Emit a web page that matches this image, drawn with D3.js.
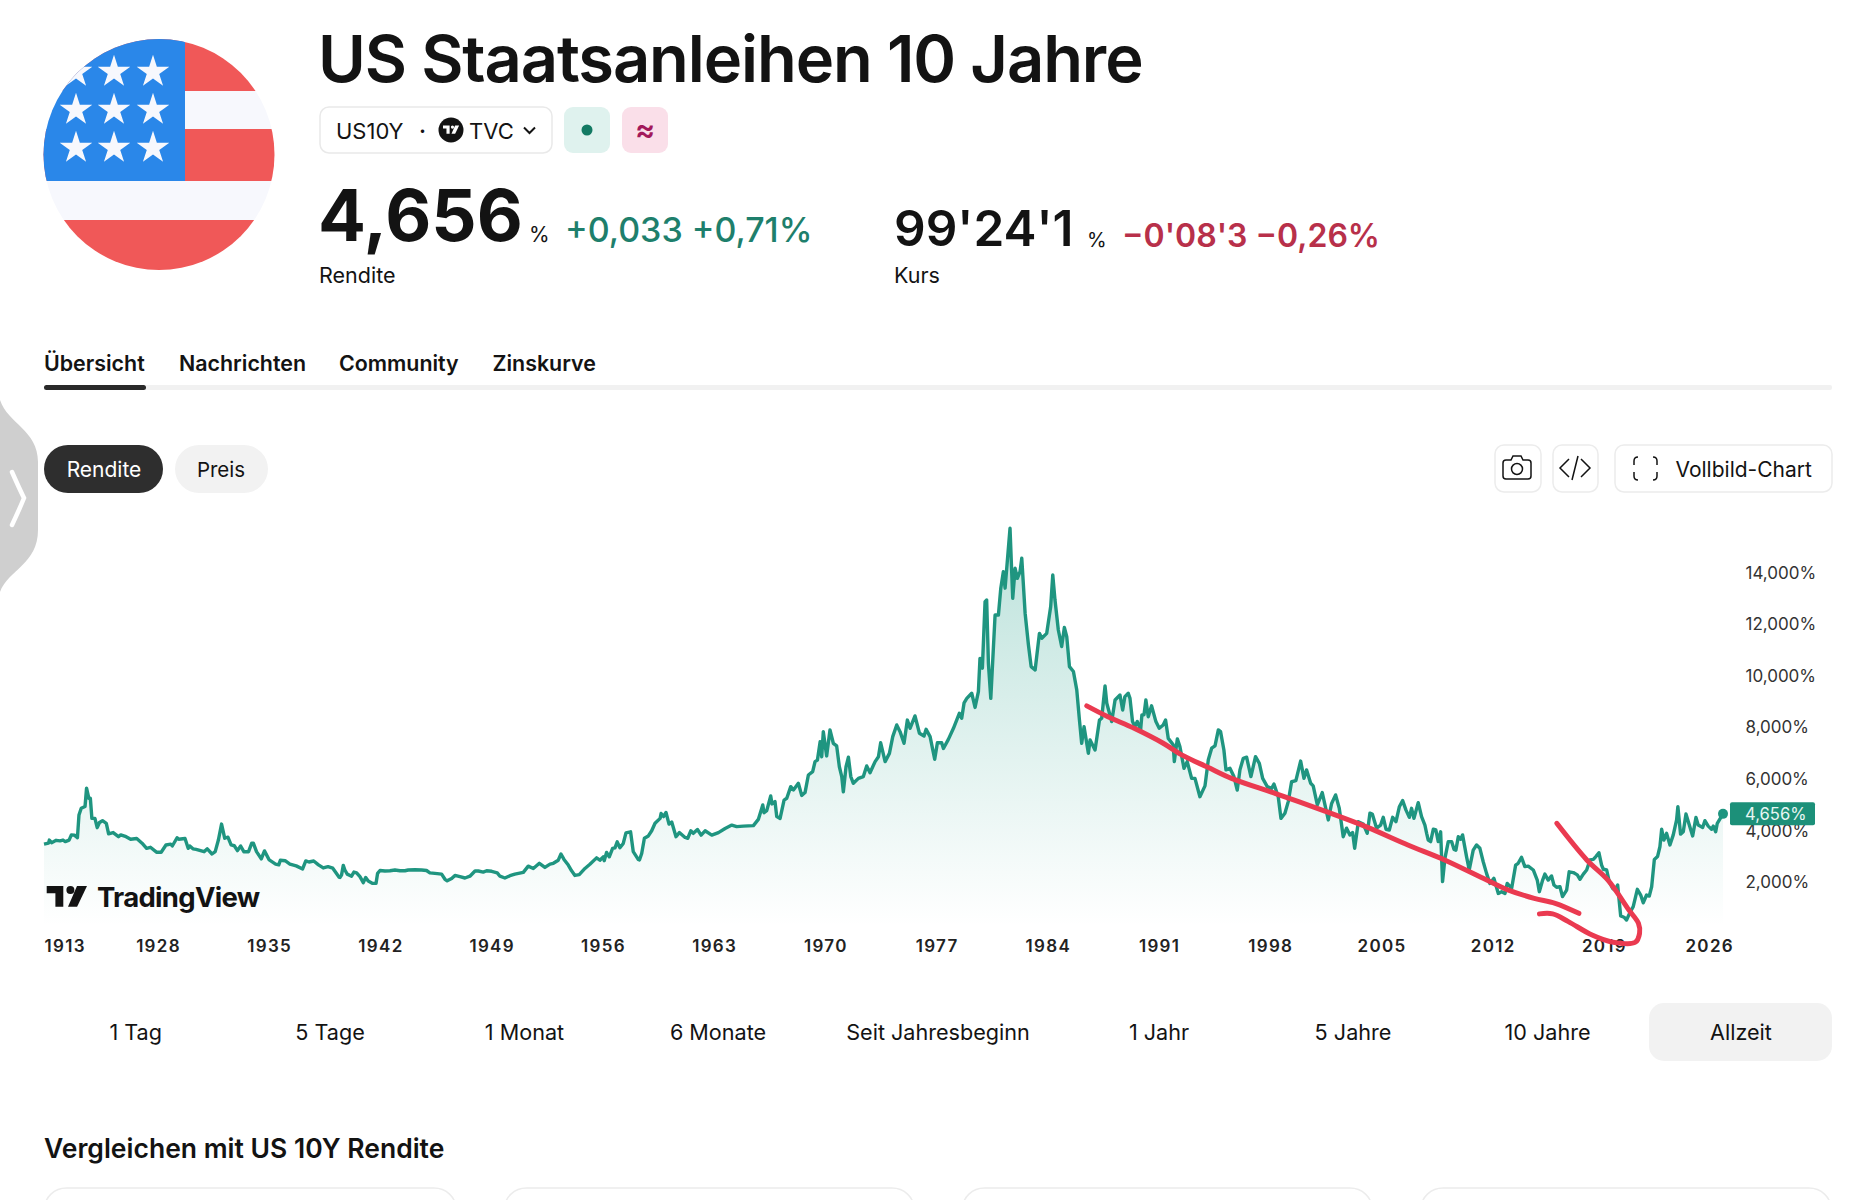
<!DOCTYPE html>
<html>
<head>
<meta charset="utf-8">
<title>US Staatsanleihen 10 Jahre</title>
<script src="https://cdn.jsdelivr.net/npm/d3@7"></script>
<style>
	html, body { margin: 0; padding: 0; background: #fff; }
	svg { display: block; }
	text { font-family: Inter, 'Noto Sans', sans-serif; fill: #131313; }
</style>
</head>
<body>
<svg id="page" width="1875" height="1200"></svg>
<script>
// Data: [year, yield in %]
const yields1913 = [
	[1913.0,3.48],[1913.6,3.52],[1913.7,3.64],[1914.0,3.54],[1914.6,3.63],[1915.1,3.61],[1915.5,3.64],[1915.8,3.58],
	[1916.3,3.64],[1916.6,3.84],[1917.0,3.83],[1917.4,3.73],[1917.6,4.61],[1917.9,4.87],[1918.4,4.94],[1918.6,5.65],
	[1918.9,5.26],[1919.1,5.26],[1919.3,4.48],[1919.7,4.48],[1920.0,4.12],[1920.3,4.32],[1920.7,4.39],[1921.2,4.29],
	[1921.5,3.88],[1922.1,3.93],[1922.8,3.77],[1923.1,3.84],[1923.8,3.77],[1924.4,3.67],[1925.2,3.70],[1925.9,3.52],
	[1926.5,3.32],[1927.0,3.36],[1927.8,3.17],[1928.2,3.17],[1928.5,3.45],[1928.8,3.48],[1928.9,3.41],[1929.2,3.73],
	[1929.3,3.67],[1929.7,3.70],[1929.9,3.32],[1930.0,3.41],[1930.2,3.30],[1930.4,3.28],[1930.9,3.19],[1931.1,3.30],
	[1931.4,3.10],[1931.6,3.19],[1931.8,3.64],[1932.0,4.26],[1932.2,3.71],[1932.4,3.75],[1932.6,3.45],[1932.8,3.42],
	[1933.0,3.23],[1933.2,3.41],[1933.4,3.19],[1933.7,3.19],[1933.9,3.52],[1934.0,3.52],[1934.2,3.19],[1934.5,2.91],
	[1934.7,3.22],[1935.0,2.87],[1935.4,2.71],[1935.6,2.68],[1935.7,2.86],[1936.0,2.84],[1936.3,2.71],[1936.7,2.64],
	[1937.1,2.52],[1937.3,2.83],[1937.5,2.79],[1937.8,2.83],[1938.1,2.68],[1938.4,2.56],[1938.7,2.61],[1939.0,2.55],
	[1939.4,2.20]
];
const yields1939 = [
	[1939.45,2.19],[1939.55,2.28],[1939.66,2.66],[1939.76,2.48],[1939.91,2.32],[1940.18,2.24],[1940.33,2.40],[1940.5,2.37],
	[1940.71,2.22],[1940.92,1.99],[1941.07,2.19],[1941.23,2.05],[1941.51,1.96],[1941.72,1.96],[1941.82,2.35],[1941.97,2.46],
	[1942.28,2.44],[1942.6,2.45],[1942.91,2.48],[1943.23,2.45],[1943.54,2.45],[1943.75,2.48],[1944.17,2.49],[1944.59,2.48],
	[1944.9,2.46],[1945.11,2.37],[1945.43,2.35],[1945.85,2.32],[1946.06,2.12],[1946.2,2.06],[1946.48,2.15],[1946.69,2.27],
	[1947.0,2.22],[1947.32,2.17],[1947.63,2.24],[1947.95,2.44],[1948.16,2.44],[1948.47,2.40],[1948.68,2.45],[1949.0,2.43],
	[1949.35,2.37],[1949.52,2.24],[1949.83,2.17],[1950.15,2.26],[1950.46,2.32],[1950.99,2.39],[1951.3,2.63],[1951.62,2.54],
	[1952.0,2.74],[1952.35,2.58],[1952.67,2.71],[1952.88,2.74],[1953.19,2.86],[1953.36,3.10],[1953.55,2.89],[1953.82,2.67],
	[1954.03,2.45],[1954.24,2.27],[1954.51,2.30],[1954.87,2.54],[1955.18,2.70],[1955.6,2.95],[1955.81,2.86],[1956.02,2.99],
	[1956.08,2.84],[1956.23,3.16],[1956.4,2.99],[1956.61,3.32],[1956.76,3.34],[1956.9,3.57],[1957.07,3.34],[1957.28,3.51],
	[1957.45,3.92],[1957.74,3.96],[1957.91,3.19],[1958.22,2.89]
];
const yields1958 = [
	[1958.3,2.87],[1958.44,3.12],[1958.61,3.71],[1958.86,3.80],[1959.07,4.00],[1959.28,4.29],[1959.6,4.48],[1959.66,4.67],
	[1959.81,4.55],[1959.97,4.71],[1960.16,4.26],[1960.33,4.34],[1960.6,3.77],[1960.81,3.93],[1961.17,3.74],[1961.34,3.71],
	[1961.53,4.00],[1961.69,3.90],[1961.95,4.05],[1962.18,3.83],[1962.43,4.00],[1962.85,3.83],[1963.27,3.93],[1963.69,4.09],
	[1964.11,4.22],[1964.42,4.16],[1964.84,4.18],[1965.47,4.20],[1965.78,4.44],[1966.06,5.00],[1966.14,4.70],[1966.31,4.78],
	[1966.56,5.35],[1966.64,5.04],[1966.83,5.13],[1966.94,4.55],[1967.15,4.48],[1967.4,5.19],[1967.57,5.26],[1967.82,5.71],
	[1967.99,5.58],[1968.3,5.84],[1968.51,5.37],[1968.72,5.48],[1968.93,6.16],[1969.2,6.29],[1969.35,6.68],[1969.5,6.74],
	[1969.67,7.45],[1969.77,6.87],[1969.87,7.84],[1970.08,6.90],[1970.29,7.91],[1970.5,7.39],[1970.71,7.29],[1970.88,6.48],
	[1971.03,6.10],[1971.13,5.51],[1971.3,6.48],[1971.45,6.85],[1971.6,6.10],[1971.76,5.84],[1972.08,6.03],[1972.39,6.10],
	[1972.6,6.51],[1972.81,6.25],[1973.13,6.68],[1973.34,6.87],[1973.48,7.41],[1973.76,6.68],[1974.03,7.00],[1974.24,7.65],
	[1974.49,8.10],[1974.7,7.84],[1974.95,7.39],[1975.16,8.29],[1975.33,7.97],[1975.64,8.45],[1975.92,7.78],[1976.21,7.67],
	[1976.34,7.93],[1976.59,7.65],[1976.88,6.77],[1977.05,7.41],[1977.32,7.41],[1977.43,7.19],[1977.74,7.54],[1978.06,7.97],
	[1978.43,8.55],[1978.58,8.36],[1978.73,8.96],[1978.9,9.13],[1979.21,9.33],[1979.42,8.78]
];
const yields1979 = [
	[1979.63,9.39],[1979.73,10.68],[1979.88,10.30],[1980.05,12.88],[1980.15,12.94],[1980.26,10.49],[1980.41,9.13],[1980.68,12.36],
	[1980.89,12.36],[1981.04,13.40],[1981.2,14.04],[1981.31,13.40],[1981.62,15.72],[1981.79,13.01],[1981.94,14.17],[1982.08,13.78],
	[1982.25,14.04],[1982.36,14.56],[1982.57,12.43],[1982.78,11.20],[1982.95,10.36],[1983.2,10.23],[1983.47,11.65],[1983.62,11.46],
	[1983.93,11.65],[1984.18,12.69],[1984.31,13.91],[1984.45,12.94],[1984.66,11.78],[1984.87,11.14],[1985.04,11.88],[1985.19,11.52],
	[1985.36,10.36],[1985.61,10.17],[1985.82,9.46],[1985.99,8.29],[1986.13,7.39],[1986.28,8.03],[1986.55,7.00],[1986.66,7.52],
	[1986.97,7.13],[1987.25,8.29],[1987.39,8.36],[1987.6,9.61],[1987.71,8.94],[1988.02,8.23],[1988.23,9.07],[1988.54,9.26]
];
const yields1988 = [
	[1988.71,8.68],[1988.85,9.20],[1989.06,9.33],[1989.17,9.13],[1989.33,8.23],[1989.48,8.04],[1989.63,8.23],[1989.84,7.91],
	[1989.92,8.49],[1990.05,8.49],[1990.17,9.07],[1990.32,8.42],[1990.53,8.84],[1990.8,8.23],[1991.01,7.97],[1991.26,8.10],
	[1991.41,8.29],[1991.58,7.58],[1991.89,7.33],[1991.96,6.68],[1992.15,7.56],[1992.31,7.26],[1992.57,6.42],[1992.77,6.68],
	[1993.05,6.03],[1993.26,6.03],[1993.57,5.32],[1993.89,5.74],[1994.1,6.75],[1994.31,7.20],[1994.52,7.29],[1994.73,7.91],
	[1994.87,7.84],[1995.08,7.13],[1995.21,6.36],[1995.46,6.42],[1995.71,6.10],[1995.92,5.58],[1996.09,6.36],[1996.3,6.81],
	[1996.51,6.85],[1996.78,6.10],[1997.07,6.87],[1997.31,6.61],[1997.52,6.03],[1997.81,5.71],[1998.08,5.64],[1998.23,5.81],
	[1998.5,5.32],[1998.67,4.48],[1998.92,4.68],[1999.13,5.13],[1999.34,5.90],[1999.61,5.94],[1999.91,6.70],[2000.12,6.03],
	[2000.28,6.36],[2000.54,5.84],[2000.7,5.74],[2000.96,5.00],[2001.27,5.48],[2001.65,4.42],[2001.86,5.06],[2002.11,5.39],
	[2002.34,4.87],[2002.59,3.77],[2002.8,4.10],[2003.01,3.84],[2003.18,3.93],[2003.31,3.32],[2003.54,4.35],[2003.85,4.26],
	[2004.1,3.90],[2004.27,4.68],[2004.42,4.65],[2004.69,4.10]
];
const yields2004 = [
	[2004.94,4.22],[2005.11,4.52],[2005.28,4.06],[2005.49,4.03],[2005.7,4.52],[2005.91,4.35],[2006.12,4.93],[2006.33,5.17],
	[2006.54,4.80],[2006.75,4.52],[2006.89,4.87],[2007.04,4.48],[2007.31,5.09],[2007.52,4.55],[2007.73,4.22],[2007.84,3.90],
	[2007.94,3.64],[2008.09,3.58],[2008.26,4.06],[2008.42,4.03],[2008.57,3.58],[2008.72,3.96],[2008.84,2.03],[2008.99,2.93],
	[2009.2,3.58],[2009.41,3.58],[2009.56,3.28],[2009.68,3.25],[2009.83,3.77],[2009.98,3.67],[2010.1,3.84],[2010.35,3.00],
	[2010.52,2.48],[2010.77,3.25],[2010.98,3.45],[2011.19,3.32],[2011.4,2.80],[2011.61,2.35],[2011.82,1.96],[2012.07,2.16],
	[2012.35,1.57],[2012.56,1.64],[2012.77,1.57],[2012.91,1.96],[2013.19,1.77],[2013.44,2.67],[2013.6,2.74],[2013.81,2.97],
	[2014.02,2.61],[2014.23,2.63],[2014.55,2.48],[2014.8,2.09],[2014.93,1.64],[2015.14,2.09],[2015.28,2.32],[2015.49,2.09],
	[2015.7,2.25],[2015.85,1.90],[2016.02,1.81],[2016.23,1.83],[2016.39,1.45],[2016.65,1.70],[2016.81,2.41]
];
const yields2017 = [
	[2017.07,2.38],[2017.32,2.29],[2017.49,2.12],[2017.7,2.32],[2017.91,2.48],[2018.12,2.87],[2018.33,2.89],[2018.49,3.00],
	[2018.68,3.15],[2018.85,2.67],[2018.96,2.51],[2019.17,2.48],[2019.33,2.03],[2019.54,1.77],[2019.69,1.70],[2019.86,1.90],
	[2020.05,0.70],[2020.26,0.65],[2020.42,0.54],[2020.63,0.83],[2020.84,1.06],[2021.1,1.73],[2021.31,1.51],[2021.47,1.21],
	[2021.68,1.51],[2021.85,1.47],[2022.0,1.83],[2022.17,2.89],[2022.37,3.00],[2022.52,3.38],[2022.63,4.06],[2022.77,3.64],
	[2022.94,3.90],[2023.15,3.45],[2023.36,3.84],[2023.57,4.42],[2023.65,4.93],[2023.82,3.87],[2023.99,3.96],[2024.16,4.65],
	[2024.37,4.22],[2024.58,3.80],[2024.79,4.52],[2024.93,4.22],[2025.21,4.13],[2025.35,4.39],[2025.56,4.18],[2025.77,4.06],
	[2025.88,4.18],[2026.03,3.96],[2026.13,4.29],[2026.49,4.656]
];

// Hand drawn red strokes on top of the chart, same units as the series
const trendStroke = [
	[1986.45,8.84],[1987.78,8.42],[1989.43,7.97],[1991.26,7.39],[1992.42,6.94],[1994.07,6.46],[1995.56,6.03],[1998.38,5.43],
	[2001.52,4.74],[2004.01,4.16],[2006.66,3.45],[2008.97,2.87],[2011.62,2.09],[2012.95,1.71],[2014.61,1.38],[2015.93,1.19],[2017.42,0.80]
];
const hookStroke = [
	[2016.03,4.29],[2017.92,2.87],[2019.25,2.09],[2020.57,0.93],[2021.17,0.41],[2021.24,0.03],[2020.97,-0.32],
	[2019.58,-0.32],[2018.25,-0.04],[2016.76,0.48],[2015.77,0.78],[2014.94,0.78]
];

const xTicks = [1913, 1928, 1935, 1942, 1949, 1956, 1963, 1970, 1977, 1984, 1991, 1998, 2005, 2012, 2019, 2026];
const yTicks = [2, 4, 6, 8, 10, 12, 14];
const lastYield = 4.656;
const tabs = ['Übersicht', 'Nachrichten', 'Community', 'Zinskurve'];
const ranges = ['1 Tag', '5 Tage', '1 Monat', '6 Monate', 'Seit Jahresbeginn', '1 Jahr', '5 Jahre', '10 Jahre', 'Allzeit'];

const series = [].concat(yields1913, yields1939, yields1958, yields1979, yields1988, yields2004, yields2017);

const svg = d3.select('#page');
const defs = svg.append('defs');

const addText = (x, y, str, size, weight, color, anchor) =>
	svg.append('text')
		.attr('x', x)
		.attr('y', y)
		.attr('font-size', size)
		.attr('font-weight', weight || 400)
		.attr('text-anchor', anchor || 'start')
		.style('fill', color || '#131313')
		.text(str);

const addBox = (x0, y0, x1, y1, r, fill, stroke) =>
	svg.append('rect')
		.attr('x', x0)
		.attr('y', y0)
		.attr('width', x1 - x0)
		.attr('height', y1 - y0)
		.attr('rx', r)
		.attr('fill', fill)
		.attr('stroke', stroke || 'none')
		.attr('stroke-width', stroke ? 1.5 : 0);

// TradingView mark, 40 wide and 21 high at scale 1
const addLogo = (x, y, k, color) => {
	const g = svg.append('g').attr('transform', `translate(${x}, ${y}) scale(${k})`).attr('fill', color);
	g.append('path').attr('d', 'M0,0H16.6V20.7H8.7V7.3H0Z');
	g.append('circle').attr('cx', 23.7).attr('cy', 4).attr('r', 4);
	g.append('path').attr('d', 'M30.3,0H40.3L30.4,20.7H21.3Z');
};

// Side handle

svg.append('path')
	.attr('d', 'M0,400C8,424 38,430 38,462V530C38,564 8,570 0,592Z')
	.attr('fill', '#cfcfcf');
svg.append('path')
	.attr('d', 'M12,472Q20,490 24,498Q20,508 12,525')
	.attr('fill', 'none')
	.attr('stroke', '#fff')
	.attr('stroke-width', 4.5)
	.attr('stroke-linecap', 'round');

// Flag

defs.append('clipPath').attr('id', 'flagClip')
	.append('circle').attr('cx', 159).attr('cy', 154.5).attr('r', 115.5);
const flag = svg.append('g').attr('clip-path', 'url(#flagClip)');
[[39, 91, '#f05858'], [91, 129, '#f7f8fd'], [129, 181, '#f05858'], [181, 220, '#f7f8fd'], [220, 271, '#f05858']].forEach((s) => {
	flag.append('rect').attr('x', 40).attr('y', s[0]).attr('width', 240).attr('height', s[1] - s[0]).attr('fill', s[2]);
});
flag.append('rect').attr('x', 40).attr('y', 39).attr('width', 145).attr('height', 142).attr('fill', '#2a87e9');
[71, 109, 147].forEach((cy) => {
	[76, 114, 153].forEach((cx) => {
		flag.append('path')
			.attr('d', d3.symbol(d3.symbolStar, 330)())
			.attr('transform', `translate(${cx}, ${cy + 1})`)
			.attr('fill', '#f7f8fd');
	});
});

// Header

addText(318, 82, 'US Staatsanleihen 10 Jahre', 65, 600).attr('letter-spacing', -1.1);

addBox(320, 107, 552, 153, 9, '#fff', '#e9e9e9');
addText(336, 138.5, 'US10Y', 22);
addText(419, 138.5, '·', 22, 600);
svg.append('circle').attr('cx', 451).attr('cy', 130).attr('r', 12.5).attr('fill', '#131313');
addLogo(443, 125.5, 0.4, '#fff');
addText(469, 138.5, 'TVC', 22);
svg.append('path')
	.attr('d', 'M524,127.5L529.5,133L535,127.5')
	.attr('fill', 'none')
	.attr('stroke', '#131313')
	.attr('stroke-width', 2);
addBox(564, 107, 610, 153, 9, '#dff2ee');
svg.append('circle').attr('cx', 587).attr('cy', 130).attr('r', 5.5).attr('fill', '#137a63');
addBox(622, 107, 668, 153, 9, '#fadfe9');
addText(645, 140, '≈', 30, 600, '#a3195b', 'middle');

addText(318, 241, '4,656', 71, 700);
addText(529, 242, '%', 21);
addText(565, 241.5, '+0,033 +0,71%', 34, 500, '#1e7f6c');
addText(319, 283, 'Rendite', 21.5);

addText(894, 246, "99'24'1", 49.5, 600);
addText(1087, 247, '%', 20);
addText(1122, 246.5, "−0'08'3 −0,26%", 32, 600, '#b8304a');
addText(894, 283, 'Kurs', 21.5);

// Tabs

const tabX = [44, 179, 339, 492.5];
tabs.forEach((t, i) => addText(tabX[i], 371, t, 21.4, 600));
addBox(44, 385, 1832, 390, 2, '#f1f1f1');
addBox(44, 385, 146, 390, 2.5, '#2a2a2a');

// Toggles and buttons

addBox(44, 445, 163, 493, 24, '#2e2e2e');
addText(104, 477, 'Rendite', 21, 400, '#fff', 'middle');
addBox(175, 445, 268, 493, 24, '#f2f2f2');
addText(221, 477, 'Preis', 20.5, 400, '#131313', 'middle');

addBox(1495, 445, 1541, 492, 9, '#fff', '#ececec');
addBox(1553, 445, 1598, 492, 9, '#fff', '#ececec');
addBox(1615, 445, 1832, 492, 9, '#fff', '#ececec');
const iconStyle = (sel) => sel.attr('fill', 'none').attr('stroke', '#131313').attr('stroke-width', 1.5);
iconStyle(svg.append('path'))
	.attr('d', 'M1506,460H1511L1513,456H1521L1523,460H1528Q1531,460 1531,463V476Q1531,479 1528,479H1506Q1503,479 1503,476V463Q1503,460 1506,460Z');
iconStyle(svg.append('circle')).attr('cx', 1517).attr('cy', 469).attr('r', 5.5);
iconStyle(svg.append('path')).attr('d', 'M1569,459L1560,468L1569,477M1581,459L1590,468L1581,477M1578,456L1572,480');
iconStyle(svg.append('path'))
	.attr('d', 'M1638,457Q1634,457 1634,461V465M1653,457Q1657,457 1657,461V465M1634,472V476Q1634,480 1638,480M1657,472V476Q1657,480 1653,480');
addText(1675.5, 477, 'Vollbild-Chart', 21);

// Scales

const xscale = d3.scaleLinear().domain([1913, 1928, 2026.49]).range([44, 158, 1723]);
const yscale = d3.scaleLinear().domain([0, 14]).range([934, 572.7]);

// Area and line

const gradient = defs.append('linearGradient')
	.attr('id', 'areaFill')
	.attr('gradientUnits', 'userSpaceOnUse')
	.attr('x1', 0)
	.attr('x2', 0)
	.attr('y1', yscale(15.72))
	.attr('y2', yscale(0.3));
gradient.append('stop').attr('offset', 0).attr('stop-color', '#1f9e87').attr('stop-opacity', 0.3);
gradient.append('stop').attr('offset', 1).attr('stop-color', '#1f9e87').attr('stop-opacity', 0);

const area = d3.area()
	.x((d) => xscale(d[0]))
	.y0(yscale(0))
	.y1((d) => yscale(d[1]));
const line = d3.line()
	.x((d) => xscale(d[0]))
	.y((d) => yscale(d[1]));

svg.append('path').datum(series).attr('d', area).attr('fill', 'url(#areaFill)');
svg.append('path')
	.datum(series)
	.attr('d', line)
	.attr('fill', 'none')
	.attr('stroke', '#1f9580')
	.attr('stroke-width', 3.4)
	.attr('stroke-linejoin', 'round');
svg.append('circle')
	.attr('cx', xscale(2026.49))
	.attr('cy', yscale(lastYield))
	.attr('r', 5)
	.attr('fill', '#1f9580');

// Watermark

addLogo(46.7, 886, 1, '#131313');
addText(97, 907, 'TradingView', 27.5, 700).attr('letter-spacing', -0.7);

// Axes

const bottomAxis = d3.axisBottom(xscale)
	.tickValues(xTicks)
	.tickFormat(d3.format('d'))
	.tickSize(0)
	.tickPadding(0);
const xAxis = svg.append('g').attr('transform', 'translate(0, 940)').call(bottomAxis);
xAxis.select('.domain').remove();
xAxis.selectAll('text')
	.attr('font-size', 17)
	.attr('font-weight', 600)
	.attr('letter-spacing', 1.3)
	.attr('font-family', 'Inter')
	.style('fill', '#222');
xAxis.selectAll('.tick').filter((d) => d === 1913).select('text').attr('text-anchor', 'start');
xAxis.selectAll('.tick').filter((d) => d === 2026).select('text').attr('dx', -6);

const rightAxis = d3.axisRight(yscale)
	.tickValues(yTicks)
	.tickFormat((d) => d.toFixed(3).replace('.', ',') + '%')
	.tickSize(0)
	.tickPadding(0);
const yAxis = svg.append('g').attr('transform', 'translate(1745.5, 0)').call(rightAxis);
yAxis.select('.domain').remove();
yAxis.selectAll('text')
	.attr('font-size', 17)
	.attr('font-family', 'Inter')
	.style('fill', '#333');

// Last value badge

addBox(1730, yscale(lastYield) - 11.5, 1815, yscale(lastYield) + 11.5, 2, '#1c9079');
addText(1745, yscale(lastYield) + 6, lastYield.toFixed(3).replace('.', ',') + '%', 16.6, 400, '#e8f6f3');

// Red strokes

const scribble = d3.line()
	.x((d) => xscale(d[0]))
	.y((d) => yscale(d[1]))
	.curve(d3.curveCatmullRom);
[trendStroke, hookStroke].forEach((stroke) => {
	svg.append('path')
		.datum(stroke)
		.attr('d', scribble)
		.attr('fill', 'none')
		.attr('stroke', '#ea3a50')
		.attr('stroke-width', 5)
		.attr('stroke-linecap', 'round')
		.attr('stroke-linejoin', 'round');
});

// Range buttons

addBox(1649, 1003, 1832, 1061, 15, '#f2f2f2');
const rangeX = [135.7, 330, 524.5, 718, 938, 1159, 1353, 1547.6, 1741];
ranges.forEach((r, i) => addText(rangeX[i], 1040, r, 21.6, 400, '#131313', 'middle'));

// Compare section

addText(44, 1158, 'Vergleichen mit US 10Y Rendite', 26.5, 600);
[[44.5, 456], [504.5, 914], [962.5, 1372], [1421, 1831]].forEach((c) => {
	addBox(c[0], 1188, c[1], 1230, 22, '#fff', '#ececec');
});
</script>
</body>
</html>
